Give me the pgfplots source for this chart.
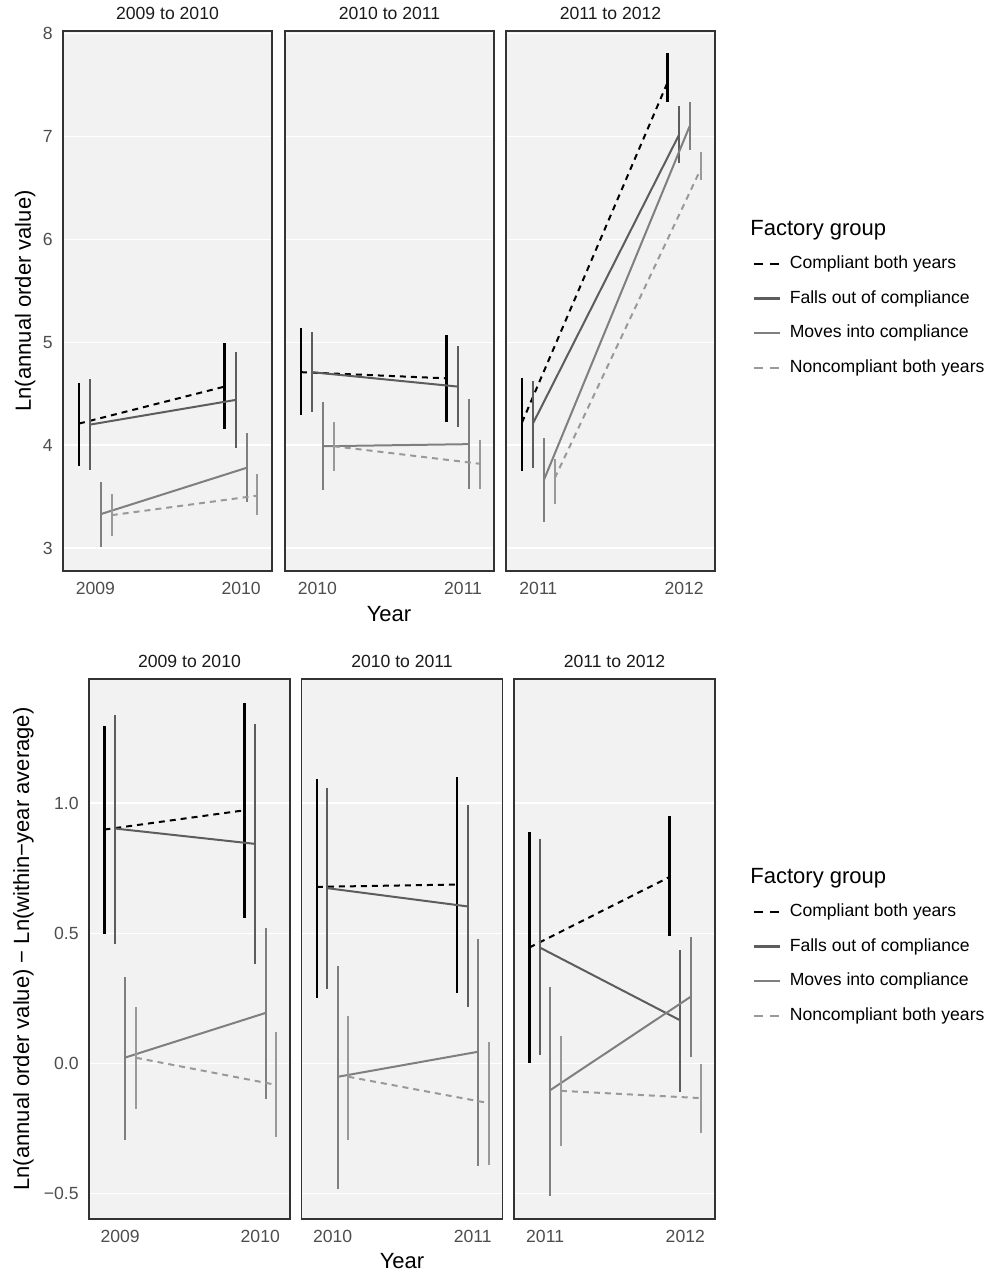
\documentclass[border=0pt]{standalone}
\usepackage{pgfplots}
\pgfplotsset{compat=1.18}
\usepackage{pgfplotstable}
\usepackage{fontspec}
\setmainfont{Liberation Sans}
\definecolor{panelbg}{HTML}{F2F2F2}
\definecolor{bordercol}{HTML}{333333}
\definecolor{tickcol}{HTML}{4D4D4D}
\definecolor{stripcol}{HTML}{1A1A1A}
\definecolor{cC}{HTML}{000000}
\definecolor{cF}{HTML}{5D5D5D}
\definecolor{cM}{HTML}{7F7F7F}
\definecolor{cN}{HTML}{999999}

% columns: t = year index (0 = first year, 1 = second year)
% c = Compliant both years, f = Falls out, m = Moves into, n = Noncompliant
\pgfplotstableread{
t cy clo chi fy flo fhi my mlo mhi ny nlo nhi
0 4.21 3.80 4.60 4.20 3.76 4.64 3.33 3.01 3.64 3.32 3.12 3.53
1 4.57 4.16 4.99 4.44 3.97 4.91 3.78 3.45 4.12 3.51 3.32 3.72
}\topA
\pgfplotstableread{
t cy clo chi fy flo fhi my mlo mhi ny nlo nhi
0 4.71 4.29 5.14 4.71 4.32 5.10 3.99 3.56 4.42 3.99 3.75 4.23
1 4.65 4.23 5.07 4.57 4.18 4.96 4.01 3.57 4.45 3.82 3.57 4.05
}\topB
\pgfplotstableread{
t cy clo chi fy flo fhi my mlo mhi ny nlo nhi
0 4.22 3.75 4.65 4.21 3.78 4.62 3.66 3.25 4.07 3.68 3.43 3.87
1 7.53 7.34 7.81 7.01 6.74 7.30 7.10 6.87 7.34 6.68 6.58 6.85
}\topC
\pgfplotstableread{
t cy clo chi fy flo fhi my mlo mhi ny nlo nhi
0 0.898 0.496 1.295 0.902 0.457 1.336 0.023 -0.295 0.333 0.022 -0.175 0.216
1 0.972 0.558 1.383 0.843 0.383 1.302 0.194 -0.136 0.519 -0.082 -0.281 0.119
}\botA
\pgfplotstableread{
t cy clo chi fy flo fhi my mlo mhi ny nlo nhi
0 0.678 0.251 1.091 0.673 0.287 1.057 -0.051 -0.481 0.375 -0.051 -0.295 0.184
1 0.687 0.271 1.101 0.603 0.216 0.991 0.045 -0.392 0.479 -0.152 -0.389 0.084
}\botB
\pgfplotstableread{
t cy clo chi fy flo fhi my mlo mhi ny nlo nhi
0 0.445 0.000 0.887 0.445 0.031 0.860 -0.102 -0.509 0.295 -0.105 -0.315 0.104
1 0.716 0.491 0.949 0.166 -0.110 0.437 0.256 0.023 0.487 -0.133 -0.265 -0.002
}\botC

\newcommand{\fourseries}[1]{%
\addplot[cC, line width=1pt, dash pattern=on 3pt off 2.5pt, forget plot,
  error bars/.cd, y dir=both, y explicit, error mark=none, error bar style={solid, line width=1.3pt}]
  table[x expr=\thisrow{t}-0.1125, y=cy, y error plus expr=\thisrow{chi}-\thisrow{cy}, y error minus expr=\thisrow{cy}-\thisrow{clo}] {#1};
\addplot[cF, line width=1pt, forget plot,
  error bars/.cd, y dir=both, y explicit, error mark=none, error bar style={solid, line width=1pt}]
  table[x expr=\thisrow{t}-0.0375, y=fy, y error plus expr=\thisrow{fhi}-\thisrow{fy}, y error minus expr=\thisrow{fy}-\thisrow{flo}] {#1};
\addplot[cM, line width=1pt, forget plot,
  error bars/.cd, y dir=both, y explicit, error mark=none, error bar style={solid, line width=1pt}]
  table[x expr=\thisrow{t}+0.0375, y=my, y error plus expr=\thisrow{mhi}-\thisrow{my}, y error minus expr=\thisrow{my}-\thisrow{mlo}] {#1};
\addplot[cN, line width=1pt, dash pattern=on 3pt off 2.5pt, forget plot,
  error bars/.cd, y dir=both, y explicit, error mark=none, error bar style={solid, line width=1pt}]
  table[x expr=\thisrow{t}+0.1125, y=ny, y error plus expr=\thisrow{nhi}-\thisrow{ny}, y error minus expr=\thisrow{ny}-\thisrow{nlo}] {#1};
}

\newcommand{\legendimages}{%
\addlegendimage{cC, line width=1.2pt, dash pattern=on 4.5pt off 3.5pt}
\addlegendentry{Compliant both years}
\addlegendimage{cF, line width=1.2pt}
\addlegendentry{Falls out of compliance}
\addlegendimage{cM, line width=1.2pt}
\addlegendentry{Moves into compliance}
\addlegendimage{cN, line width=1.2pt, dash pattern=on 4.5pt off 3.5pt}
\addlegendentry{Noncompliant both years}
}

\pgfplotsset{
  panel/.style={
    scale only axis, height=270pt, anchor=south west,
    xmin=-0.222, xmax=1.212, xtick={0,1},
    axis background/.style={fill=panelbg},
    axis line style={draw=bordercol, line width=0.9pt},
    major tick length=0pt, tick style={draw=none},
    ymajorgrids, major grid style={white, line width=0.7pt},
    tick label style={font=\fontsize{8.8}{10}\selectfont, text=tickcol, inner sep=0pt},
    xticklabel style={anchor=base, yshift=-12pt},
    yticklabel style={anchor=east, xshift=-5pt},
    every axis title/.style={font=\fontsize{8.8}{10}\selectfont, text=stripcol,
      at={(0.5,1)}, anchor=base, yshift=5.5pt, inner sep=0pt},
    legend style={draw=none, fill=none, anchor=north west, inner sep=0pt, outer sep=0pt,
      font=\fontsize{8.8}{10}\selectfont, row sep=9.03pt,
      nodes={inner sep=0pt, text height=6.5pt, text depth=1.8pt},
      /tikz/every odd column/.style={column sep=4.2pt}},
    legend cell align=left,
    legend image code/.code={\draw[##1] (0pt,0pt) -- (13pt,0pt);},
  },
  toprow/.style={panel, width=104.5pt, ymin=2.777, ymax=8.027, ytick={3,4,5,6,7,8}},
  botrow/.style={panel, width=100.5pt, ymin=-0.597, ymax=1.476, ytick={-0.5,0,0.5,1}},
}

\begin{document}
\begin{tikzpicture}
\path[use as bounding box] (0pt,0pt) rectangle (495pt,637pt);

% ---------- top row ----------
\begin{axis}[toprow, at={(31.5pt,351.5pt)}, title={2009 to 2010},
  xticklabels={2009,2010}, yticklabels={3,4,5,6,7,8}]
\fourseries{\topA}
\end{axis}
\begin{axis}[toprow, at={(142.5pt,351.5pt)}, title={2010 to 2011},
  xticklabels={2010,2011}, yticklabels={}]
\fourseries{\topB}
\end{axis}
\begin{axis}[toprow, at={(253pt,351.5pt)}, title={2011 to 2012},
  xticklabels={2011,2012}, yticklabels={},
  legend style={at={(1.1818,0.5840)}}]
\fourseries{\topC}
\legendimages
\end{axis}

% ---------- bottom row ----------
\begin{axis}[botrow, at={(44.5pt,27.5pt)}, title={2009 to 2010},
  xticklabels={2009,2010}, yticklabels={−0.5,0.0,0.5,1.0}]
\fourseries{\botA}
\end{axis}
\begin{axis}[botrow, at={(150.75pt,27.5pt)}, title={2010 to 2011},
  xticklabels={2010,2011}, yticklabels={}]
\fourseries{\botB}
\end{axis}
\begin{axis}[botrow, at={(257pt,27.5pt)}, title={2011 to 2012},
  xticklabels={2011,2012}, yticklabels={},
  legend style={at={(1.189,0.5840)}}]
\fourseries{\botC}
\legendimages
\end{axis}

% ---------- axis titles and legend titles ----------
\node[rotate=90, anchor=base, inner sep=0pt, font=\fontsize{11}{13}\selectfont] at (15.5pt,486.5pt) {Ln(annual order value)};
\node[rotate=90, anchor=base, inner sep=0pt, font=\fontsize{11}{13}\selectfont] at (14.5pt,162.5pt) {Ln(annual order value) − Ln(within−year average)};
\node[anchor=base, inner sep=0pt, font=\fontsize{11}{13}\selectfont] at (194.5pt,326pt) {Year};
\node[anchor=base, inner sep=0pt, font=\fontsize{11}{13}\selectfont] at (201pt,2.5pt) {Year};
\node[anchor=base west, inner sep=0pt, font=\fontsize{11}{13}\selectfont] at (375pt,519.25pt) {Factory group};
\node[anchor=base west, inner sep=0pt, font=\fontsize{11}{13}\selectfont] at (375pt,195.25pt) {Factory group};
\end{tikzpicture}
\end{document}
